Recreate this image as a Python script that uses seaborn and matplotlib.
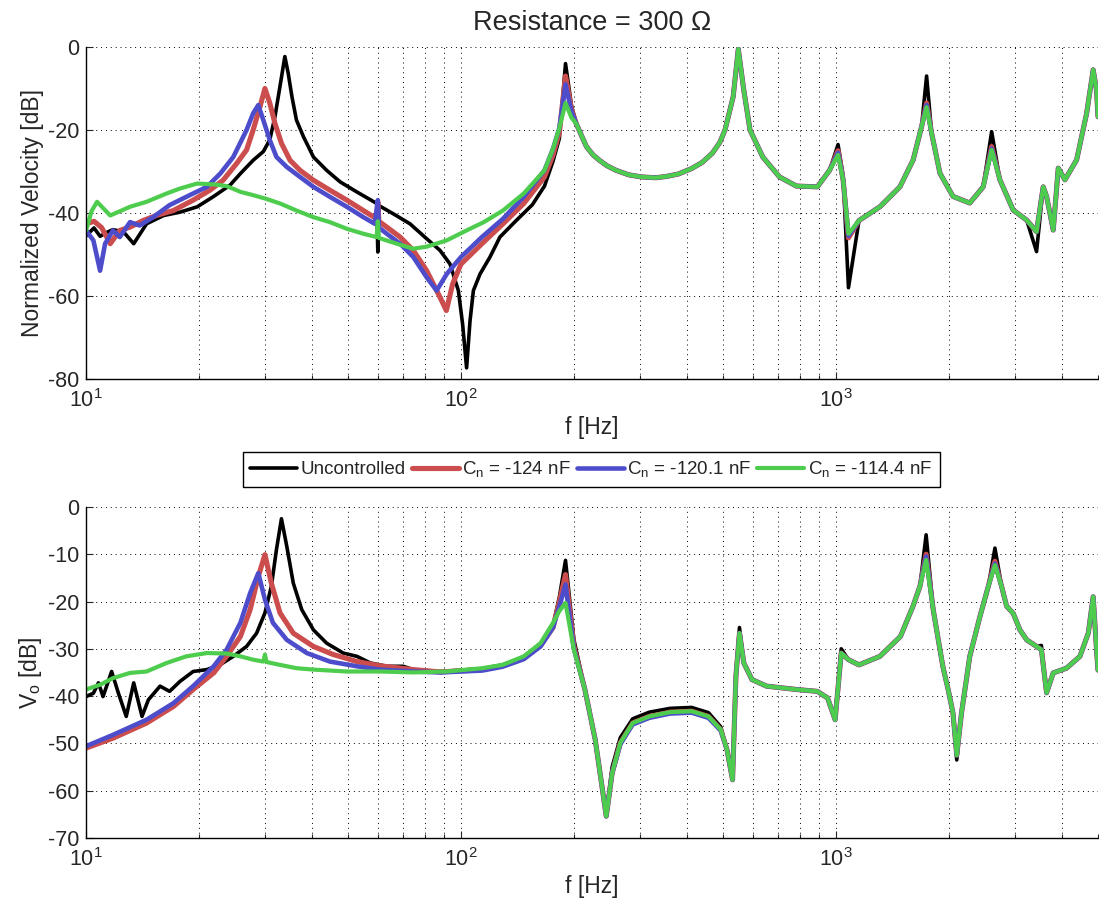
import math
import matplotlib
matplotlib.use("Agg")
import matplotlib.pyplot as plt
from matplotlib.lines import Line2D
from matplotlib.ticker import FixedLocator, FuncFormatter, NullFormatter, LogLocator
import pandas as pd
import seaborn as sns

# ---------------------------------------------------------------- data
SERIES_LABELS = ["Uncontrolled", "C$_n$ = -124 nF", "C$_n$ = -120.1 nF", "C$_n$ = -114.4 nF"]
SERIES_COLORS = ["#000000", "#CC4D4D", "#4D4DCC", "#4DCC4D"]
SERIES_WIDTHS = [2.6, 3.7, 3.3, 3.0]

X_TICKS = [10, 100, 1000]
VEL_Y_TICKS = [0, -20, -40, -60, -80]
VO_Y_TICKS = [0, -10, -20, -30, -40, -50, -60, -70]

# Normalized velocity, low-frequency part (f [Hz], dB)
VEL_LF_UNCONTROLLED = [
    (10.0, -45.5), (10.5, -43.6), (10.9, -45.6), (11.4, -44.6), (11.8, -44.0),
    (12.6, -44.6), (13.4, -47.4), (14.5, -42.6), (16.1, -40.6), (17.8, -39.8),
    (19.8, -38.5), (21.9, -36.0), (24.2, -33.3), (25.8, -30.5), (27.9, -27.3),
    (29.7, -25.2), (30.9, -22.4), (31.9, -16.8), (32.9, -9.5), (33.9, -2.3),
    (34.6, -6.3), (35.4, -11.9), (36.4, -17.6), (38.0, -21.6), (40.4, -26.5),
    (43.8, -29.7), (47.6, -32.5), (52.7, -34.9), (59.6, -37.7), (60.0, -49.4),
    (60.4, -38.2), (66.0, -40.2), (73.1, -42.6), (81.0, -46.2), (87.9, -49.0),
    (93.5, -52.3), (98.4, -58.7), (101.0, -66.8), (103.5, -77.3), (105.7, -66.0),
    (107.9, -58.7), (112.4, -54.7), (119.5, -50.6), (127.0, -45.8), (139.7, -42.0),
    (155.0, -38.0), (167.0, -33.5), (176.0, -27.5),
]
VEL_LF_124 = [
    (10.0, -42.6), (10.5, -42.0), (11.0, -43.5), (11.6, -47.4), (12.3, -44.2),
    (13.1, -43.4), (14.2, -41.8), (15.4, -40.6), (17.1, -39.4), (19.3, -36.9),
    (21.4, -34.5), (23.2, -32.1), (25.2, -28.1), (26.8, -24.8), (27.9, -20.0),
    (29.1, -14.4), (30.0, -10.0), (30.9, -13.5), (31.9, -18.4), (33.2, -23.2),
    (35.0, -27.3), (37.2, -29.7), (40.4, -32.1), (44.7, -34.5), (49.6, -36.9),
    (54.9, -39.4), (59.6, -41.4), (60.0, -37.3), (60.4, -42.0), (63.4, -43.4),
    (68.8, -45.8), (74.6, -49.0), (81.0, -53.9), (87.9, -60.3), (91.4, -63.5),
    (95.0, -57.1), (100.0, -52.3), (113.7, -47.4), (129.4, -42.6), (147.0, -37.7),
    (167.0, -31.3), (176.0, -26.0),
]
VEL_LF_120 = [
    (10.0, -44.2), (10.46, -46.6), (10.9, -53.9), (11.24, -47.4), (11.8, -44.2),
    (12.3, -45.8), (13.1, -42.2), (13.9, -43.0), (15.1, -41.0), (16.7, -38.1),
    (18.9, -35.7), (21.0, -33.7), (22.8, -30.5), (24.7, -26.5), (26.8, -20.0),
    (27.9, -16.0), (28.8, -14.0), (29.7, -17.6), (30.9, -22.4), (32.2, -26.5),
    (34.3, -28.9), (37.2, -31.3), (40.4, -33.7), (44.7, -36.1), (49.6, -38.5),
    (54.9, -41.0), (58.9, -42.6), (60.0, -36.9), (60.4, -43.5), (63.4, -45.0),
    (68.8, -47.4), (74.6, -50.6), (81.0, -55.5), (86.1, -58.7), (91.6, -54.7),
    (100.0, -50.6), (113.7, -45.8), (129.4, -41.4), (147.0, -36.1), (167.0, -29.7),
    (176.0, -24.5),
]
VEL_LF_114 = [
    (10.0, -44.2), (10.35, -39.5), (10.7, -37.3), (11.6, -40.6), (13.1, -38.5),
    (14.5, -37.3), (16.4, -35.3), (17.8, -34.1), (19.8, -32.9), (21.9, -33.1),
    (23.7, -33.5), (25.8, -34.9), (27.9, -35.7), (30.0, -36.5), (32.9, -37.7),
    (36.4, -39.4), (40.4, -41.0), (44.7, -42.2), (49.6, -43.8), (54.9, -45.0),
    (59.6, -45.8), (60.0, -42.0), (60.4, -46.0), (67.4, -47.4), (74.6, -48.6),
    (81.0, -48.1), (91.6, -46.6), (103.5, -44.2), (115.0, -42.2), (129.4, -39.4),
    (147.0, -35.3), (167.0, -29.7), (176.0, -24.5),
]

# Normalized velocity, high-frequency part (shared frequency grid)
VEL_HF_FREQ = [
    183, 190, 197, 203, 216, 225, 234, 245, 259, 280,
    302, 330, 353, 380, 412, 440, 468, 490, 506, 532,
    549, 567, 590, 638, 707, 784, 892, 962, 1013, 1045,
    1080, 1152, 1310, 1481, 1607, 1692, 1745, 1800, 1894, 2052,
    2275, 2470, 2602, 2737, 2970, 3226, 3428, 3571, 3646, 3798,
    3917, 4081, 4385, 4662, 4854, 4955, 5000,
]
VEL_HF_UNCONTROLLED = [
    -22.0, -4.0, -14.0, -18.5, -24.0, -26.0, -27.3, -28.6, -29.7, -30.8,
    -31.3, -31.5, -31.2, -30.6, -29.3, -27.8, -25.6, -23.0, -20.0, -12.0,
    -0.2, -10.0, -20.0, -26.5, -31.3, -33.5, -33.7, -29.7, -23.5, -31.0,
    -58.0, -41.8, -38.5, -33.7, -27.2, -19.2, -7.0, -20.8, -30.4, -36.0,
    -37.6, -33.7, -20.4, -32.0, -39.3, -41.7, -49.3, -33.7, -36.0, -44.1,
    -29.2, -32.0, -27.2, -16.0, -5.5, -10.4, -16.8,
]
VEL_HF_124 = [
    -20.5, -7.0, -15.0, -18.5, -24.0, -26.0, -27.3, -28.6, -29.7, -30.8,
    -31.3, -31.5, -31.2, -30.6, -29.3, -27.8, -25.6, -23.0, -20.0, -12.0,
    -0.5, -10.0, -20.0, -26.5, -31.3, -33.5, -33.7, -29.7, -25.0, -32.0,
    -46.0, -41.8, -38.5, -33.7, -27.2, -19.2, -13.5, -20.8, -30.4, -36.0,
    -37.6, -33.7, -24.0, -32.0, -39.3, -41.7, -44.5, -33.7, -36.0, -44.1,
    -29.2, -32.0, -27.2, -16.0, -5.5, -10.4, -16.8,
]
VEL_HF_120 = [
    -19.5, -9.0, -15.5, -18.5, -24.0, -26.0, -27.3, -28.6, -29.7, -30.8,
    -31.3, -31.5, -31.2, -30.6, -29.3, -27.8, -25.6, -23.0, -20.0, -12.0,
    -0.5, -10.0, -20.0, -26.5, -31.3, -33.5, -33.7, -29.7, -25.5, -32.0,
    -45.5, -41.8, -38.5, -33.7, -27.2, -19.2, -14.0, -20.8, -30.4, -36.0,
    -37.6, -33.7, -24.5, -32.0, -39.3, -41.7, -44.5, -33.7, -36.0, -44.1,
    -29.2, -32.0, -27.2, -16.0, -5.5, -10.4, -16.8,
]
VEL_HF_114 = [
    -19.5, -13.5, -17.0, -18.5, -24.0, -26.0, -27.3, -28.6, -29.7, -30.8,
    -31.3, -31.5, -31.2, -30.6, -29.3, -27.8, -25.6, -23.0, -20.0, -12.0,
    -0.5, -10.0, -20.0, -26.5, -31.3, -33.5, -33.7, -29.7, -26.0, -32.0,
    -45.0, -41.8, -38.5, -33.7, -27.2, -19.2, -14.5, -20.8, -30.4, -36.0,
    -37.6, -33.7, -24.8, -32.0, -39.3, -41.7, -44.5, -33.7, -36.0, -44.1,
    -29.2, -32.0, -27.2, -16.0, -5.5, -10.4, -16.8,
]

# Output voltage, low-frequency part (f [Hz], dB)
VO_LF_UNCONTROLLED = [
    (10.0, -40.1), (10.46, -39.4), (10.79, -37.2), (11.1, -40.1), (11.7, -34.8),
    (12.2, -39.4), (12.8, -44.3), (13.4, -37.2), (14.1, -44.3), (14.66, -40.8),
    (15.75, -37.9), (16.7, -39.0), (17.8, -36.9), (19.3, -34.8), (21.0, -34.4),
    (22.75, -33.4), (24.7, -31.6), (26.8, -29.5), (28.5, -26.7), (30.0, -22.4),
    (31.2, -16.8), (32.2, -9.0), (33.2, -2.5), (34.3, -8.3), (35.7, -16.1),
    (37.6, -21.7), (40.4, -26.0), (43.8, -28.8), (48.5, -30.9), (52.8, -31.6),
    (57.3, -33.0), (63.4, -33.7), (70.1, -33.7), (74.6, -34.4), (88.0, -34.8),
    (114.0, -34.2), (129.0, -33.4), (147.0, -31.8), (163.0, -29.0), (176.0, -25.0),
]
VO_LF_124 = [
    (10.0, -51.0), (11.8, -48.9), (14.5, -45.7), (17.1, -42.2), (19.3, -38.6),
    (21.9, -35.1), (23.7, -31.6), (25.8, -27.4), (27.4, -21.7), (28.8, -14.7),
    (30.0, -10.1), (31.2, -16.1), (32.9, -22.4), (35.7, -26.7), (40.4, -29.5),
    (45.6, -31.2), (52.8, -32.7), (60.8, -33.6), (74.6, -34.4), (88.0, -34.9),
    (114.0, -34.4), (129.0, -33.6), (147.0, -32.0), (163.0, -29.3), (176.0, -25.5),
]
VO_LF_120 = [
    (10.0, -50.6), (11.8, -48.2), (14.5, -45.0), (17.1, -41.5), (19.3, -37.9),
    (21.9, -33.7), (23.7, -30.2), (25.8, -24.5), (27.4, -18.2), (28.8, -14.0),
    (30.0, -19.6), (31.5, -24.5), (34.3, -28.1), (38.8, -30.9), (44.7, -32.7),
    (52.8, -33.7), (60.8, -34.4), (74.6, -34.8), (88.0, -35.0), (114.0, -34.6),
    (129.0, -33.8), (147.0, -32.2), (163.0, -29.5), (176.0, -25.5),
]
VO_LF_114 = [
    (10.0, -38.6), (10.9, -37.6), (11.8, -36.2), (13.1, -35.1), (14.5, -34.8),
    (16.4, -33.0), (18.5, -31.6), (21.0, -30.9), (23.7, -31.0), (25.8, -31.6),
    (27.9, -32.3), (29.7, -32.7), (30.0, -31.2), (30.3, -32.8), (32.9, -33.4),
    (36.4, -34.1), (40.4, -34.4), (49.6, -34.8), (60.8, -34.8), (74.6, -35.0),
    (91.6, -34.8), (114.0, -34.1), (129.0, -33.4), (147.0, -31.6), (163.0, -28.8),
    (176.0, -24.5),
]

# Output voltage, high-frequency part (shared frequency grid)
VO_HF_FREQ = [
    183, 190, 200, 214, 228, 237, 244, 253, 266, 287,
    318, 361, 412, 457, 493, 512, 530, 541, 553, 568,
    597, 653, 784, 892, 950, 995, 1033, 1080, 1152, 1310,
    1486, 1605, 1675, 1740, 1818, 1875, 1929, 1993, 2052, 2100,
    2162, 2275, 2421, 2549, 2655, 2766, 2853, 2970, 3095, 3226,
    3428, 3532, 3646, 3798, 4120, 4474, 4710, 4854, 4955, 5000,
]
VO_HF_UNCONTROLLED = [
    -19.0, -11.3, -28.0, -38.6, -49.2, -58.4, -64.8, -55.0, -48.8, -44.8,
    -43.4, -42.6, -42.4, -43.5, -46.5, -51.3, -56.5, -35.8, -25.5, -33.0,
    -36.5, -37.9, -38.6, -39.0, -40.4, -44.5, -30.0, -32.3, -33.4, -31.6,
    -27.4, -21.0, -16.8, -5.9, -21.8, -28.1, -33.8, -38.7, -43.6, -53.5,
    -43.6, -31.6, -23.2, -16.8, -8.7, -16.8, -21.0, -22.5, -26.0, -28.1,
    -29.5, -29.3, -39.3, -35.1, -34.1, -31.6, -26.7, -19.0, -30.2, -34.5,
]
VO_HF_124 = [
    -20.0, -14.3, -29.5, -38.6, -49.2, -58.4, -65.4, -56.3, -49.9, -45.7,
    -44.3, -43.4, -43.2, -44.3, -47.1, -51.3, -57.7, -35.8, -26.7, -33.0,
    -36.5, -37.9, -38.6, -39.0, -40.4, -45.0, -30.9, -32.3, -33.4, -31.6,
    -27.4, -21.0, -16.8, -10.0, -21.8, -28.1, -33.8, -38.7, -43.6, -52.5,
    -43.6, -31.6, -23.2, -16.8, -11.5, -16.8, -21.0, -22.5, -26.0, -28.1,
    -29.5, -30.2, -39.3, -35.1, -34.1, -31.6, -26.7, -19.0, -30.2, -34.5,
]
VO_HF_120 = [
    -21.0, -16.4, -30.0, -38.6, -49.2, -58.4, -65.4, -56.3, -50.2, -46.0,
    -44.6, -43.7, -43.5, -44.6, -47.3, -51.3, -57.7, -35.8, -26.7, -33.0,
    -36.5, -37.9, -38.6, -39.0, -40.4, -45.0, -30.9, -32.3, -33.4, -31.6,
    -27.4, -21.0, -16.8, -10.5, -21.8, -28.1, -33.8, -38.7, -43.6, -52.5,
    -43.6, -31.6, -23.2, -16.8, -12.0, -16.8, -21.0, -22.5, -26.0, -28.1,
    -29.5, -30.2, -39.3, -35.1, -34.1, -31.6, -26.7, -19.0, -30.2, -34.5,
]
VO_HF_114 = [
    -22.0, -20.3, -30.2, -38.6, -49.2, -58.4, -65.4, -56.3, -49.9, -45.7,
    -44.3, -43.4, -43.2, -44.3, -47.1, -51.3, -57.7, -35.8, -26.7, -33.0,
    -36.5, -37.9, -38.6, -39.0, -40.4, -45.0, -30.9, -32.3, -33.4, -31.6,
    -27.4, -21.0, -16.8, -11.2, -21.8, -28.1, -33.8, -38.7, -43.6, -52.5,
    -43.6, -31.6, -23.2, -16.8, -12.3, -16.8, -21.0, -22.5, -26.0, -28.1,
    -29.5, -30.2, -39.3, -35.1, -34.1, -31.6, -26.7, -19.0, -30.2, -34.5,
]

# ---------------------------------------------------------------- style
sns.set_style("white")
plt.rcParams["font.family"] = ["Liberation Sans", "DejaVu Sans"]
plt.rcParams["mathtext.fontset"] = "custom"
plt.rcParams["mathtext.rm"] = "Liberation Sans"
plt.rcParams["mathtext.it"] = "Liberation Sans:italic"
plt.rcParams["mathtext.default"] = "regular"

TICK_FS = 15.5
LABEL_FS = 16.5
LEGEND_FS = 13.5
TITLE_FS = 19.5


def series_frame(low_pts, hf_freq, hf_db):
    f = [p[0] for p in low_pts] + list(hf_freq)
    d = [p[1] for p in low_pts] + list(hf_db)
    return pd.DataFrame({"f": f, "dB": d})


def decade_label(v, pos):
    return r"$10^{%d}$" % round(math.log10(v))


def style_axes(ax, ylim, yticks):
    ax.set_xscale("log")
    ax.set_xlim(10, 5000)
    ax.set_ylim(*ylim)
    ax.xaxis.set_major_locator(FixedLocator(X_TICKS))
    ax.xaxis.set_major_formatter(FuncFormatter(decade_label))
    ax.xaxis.set_minor_locator(LogLocator(base=10, subs=range(2, 10)))
    ax.xaxis.set_minor_formatter(NullFormatter())
    ax.set_yticks(yticks)
    ax.set_yticklabels([str(t) for t in yticks])
    ax.grid(True, which="major", axis="both", color="k",
            linestyle=(0, (1, 4)), linewidth=0.7)
    ax.grid(True, which="minor", axis="x", color="k",
            linestyle=(0, (1, 4)), linewidth=0.7)
    ax.tick_params(which="major", direction="in", length=5, width=0.8,
                   labelsize=TICK_FS, pad=5, top=False, right=False,
                   bottom=True, left=True)
    ax.tick_params(axis="x", which="major", pad=7)
    ax.tick_params(which="minor", direction="in", length=3, width=0.8,
                   top=False, right=False, bottom=True, left=False)
    for side in ("top", "right"):
        ax.spines[side].set_visible(False)
    for side in ("left", "bottom"):
        ax.spines[side].set_color("k")
        ax.spines[side].set_linewidth(1.0)
    ax.set_xlabel("f [Hz]", fontsize=LABEL_FS, labelpad=3)


fig = plt.figure(figsize=(10.99, 9.02), dpi=100)
ax_vel = fig.add_axes([0.0783, 0.5798, 0.9208, 0.3681])
ax_vo = fig.add_axes([0.0783, 0.0710, 0.9208, 0.3670])

vel_sets = [
    (VEL_LF_UNCONTROLLED, VEL_HF_UNCONTROLLED),
    (VEL_LF_124, VEL_HF_124),
    (VEL_LF_120, VEL_HF_120),
    (VEL_LF_114, VEL_HF_114),
]
vo_sets = [
    (VO_LF_UNCONTROLLED, VO_HF_UNCONTROLLED),
    (VO_LF_124, VO_HF_124),
    (VO_LF_120, VO_HF_120),
    (VO_LF_114, VO_HF_114),
]

for (lo, hi), color, lw in zip(vel_sets, SERIES_COLORS, SERIES_WIDTHS):
    sns.lineplot(data=series_frame(lo, VEL_HF_FREQ, hi), x="f", y="dB", ax=ax_vel,
                 color=color, linewidth=lw, sort=False, estimator=None)
for (lo, hi), color, lw in zip(vo_sets, SERIES_COLORS, SERIES_WIDTHS):
    sns.lineplot(data=series_frame(lo, VO_HF_FREQ, hi), x="f", y="dB", ax=ax_vo,
                 color=color, linewidth=lw, sort=False, estimator=None)

style_axes(ax_vel, (-80, 0), VEL_Y_TICKS)
style_axes(ax_vo, (-70, 0), VO_Y_TICKS)

ax_vel.set_ylabel("Normalized Velocity [dB]", fontsize=LABEL_FS, labelpad=3)
ax_vo.set_ylabel("V$_o$ [dB]", fontsize=LABEL_FS, labelpad=3)
ax_vel.set_title("Resistance = 300 \u03a9", fontsize=TITLE_FS, pad=12)

handles = [Line2D([], [], color=c, linewidth=w) for c, w in zip(SERIES_COLORS, SERIES_WIDTHS)]
leg = fig.legend(handles, SERIES_LABELS, loc="center", bbox_to_anchor=(0.538, 0.4795),
                 ncol=4, fontsize=LEGEND_FS, frameon=True, fancybox=False,
                 edgecolor="k", framealpha=1.0, handlelength=2.5, handletextpad=0.2,
                 columnspacing=0.3, borderpad=0.4, borderaxespad=0.0)
leg.get_frame().set_linewidth(1.0)

fig.savefig("out.png", dpi=100)
